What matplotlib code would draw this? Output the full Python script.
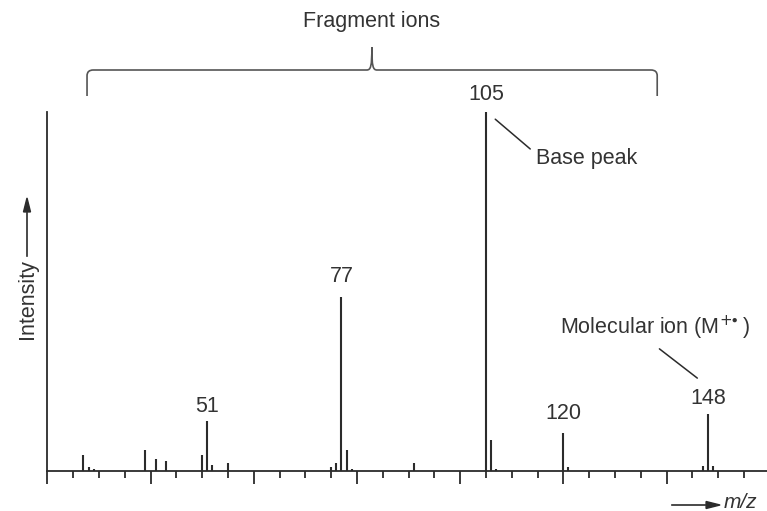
'''
Schematic EI mass spectrum with fragment ions, base peak and molecular ion.
'''
import numpy as np
import matplotlib
matplotlib.use("Agg")
import matplotlib.pyplot as plt
from matplotlib.path import Path
from matplotlib.patches import PathPatch, FancyArrow

plt.rcParams['font.family'] = ['Liberation Sans', 'DejaVu Sans']
plt.rcParams['mathtext.fontset'] = 'dejavusans'

INK = "#2b2b2b"
TXT = "#333333"
FS = 15.5

# Peaks (m/z, relative intensity in %)
mz = [27, 28, 29, 39, 41, 43, 50, 51, 52, 55,
      75, 76, 77, 78, 79, 91,
      105, 106, 107, 120, 121, 147, 148, 149]
intensity = [4.5, 1.2, 0.6, 5.8, 3.3, 2.7, 4.5, 14.0, 1.7, 2.3,
             1.0, 2.3, 48.5, 5.8, 0.5, 2.3,
             100.0, 8.6, 0.5, 10.6, 1.0, 1.3, 15.8, 1.3]

# Labelled peaks
label_mz = [51, 77, 105, 120, 148]
label_text = ["51", "77", "105", "120", "148"]
label_gap = [14, 20, 17, 19, 16]   # px between peak top and label centre

# Fragment-ion brace (m/z span and tip)
brace_left, brace_tip, brace_right = 27.7, 82.9, 138.2

fig = plt.figure(figsize=(7.67, 5.11), dpi=100)
W, H = 767, 511
x0_px, y0_px, ytop_px = 47.3, 471, 112
ax = fig.add_axes([x0_px / W, (H - y0_px) / H, (W - x0_px) / W, (y0_px - ytop_px) / H])
ax.set_xlim(20, 20 + (W - x0_px) / 5.16)
ax.set_ylim(0, 100)

ax.vlines(mz, 0, intensity, color=INK, lw=1.5)

for s in ("top", "right"):
    ax.spines[s].set_visible(False)
for s in ("left", "bottom"):
    ax.spines[s].set_color(INK)
    ax.spines[s].set_linewidth(1.3)

ax.set_xticks(np.arange(20, 160, 20))
ax.set_xticks(np.arange(20, 160, 5), minor=True)
ax.tick_params(axis="x", which="major", length=9, width=1.3, color=INK, labelbottom=False)
ax.tick_params(axis="x", which="minor", length=5, width=1.3, color=INK)
ax.set_yticks([])

# peak labels
peak_h = dict(zip(mz, intensity))
for m, t, g in zip(label_mz, label_text, label_gap):
    ax.annotate(t, (m, peak_h[m]), xytext=(0, g), textcoords="offset pixels",
                ha="center", va="center", fontsize=FS, color=TXT)

# Base peak callout
ax.annotate("", xy=(106.4, 98.5), xytext=(114.0, 89.2),
            arrowprops=dict(arrowstyle="-", color=INK, lw=1.1))
ax.text(114.8, 87.0, "Base peak", fontsize=FS, color=TXT, va="center", ha="left")

# Molecular ion callout
ax.annotate("", xy=(138.2, 34.5), xytext=(146.4, 25.4),
            arrowprops=dict(arrowstyle="-", color=INK, lw=1.1))
ax.text(137.8, 39.8, r"Molecular ion (M$^{+\!\!\bullet}$)", fontsize=FS, color=TXT,
        va="center", ha="center")

# brace over the fragment ions (drawn in data coords above the axes)
ypx = lambda p: (y0_px - p) / (y0_px - ytop_px) * 100
yb, yh, yt = ypx(96), ypx(70), ypx(47)
rx, ry = 1.2, 1.6
verts = [(brace_left, yb), (brace_left, yh - ry), (brace_left, yh), (brace_left + rx, yh),
         (brace_tip - 1.0, yh), (brace_tip - 0.2, yh), (brace_tip, yh + 1.0), (brace_tip, yt),
         (brace_tip, yh + 1.0), (brace_tip + 0.2, yh), (brace_tip + 1.0, yh),
         (brace_right - rx, yh), (brace_right, yh), (brace_right, yh - ry), (brace_right, yb)]
codes = [Path.MOVETO, Path.LINETO, Path.CURVE3, Path.CURVE3,
         Path.LINETO, Path.CURVE4, Path.CURVE4, Path.CURVE4,
         Path.CURVE4, Path.CURVE4, Path.CURVE4,
         Path.LINETO, Path.CURVE3, Path.CURVE3, Path.LINETO]
ax.add_patch(PathPatch(Path(verts, codes), fill=False, ec="#555555", lw=1.2, clip_on=False))
ax.text(brace_tip, ypx(22), "Fragment ions", fontsize=FS, color=TXT,
        ha="center", va="center", clip_on=False)

# axis captions with arrows (figure pixel coords)
fig.text(27 / W, 1 - 299 / H, "Intensity", rotation=90, fontsize=FS, color=TXT,
         ha="center", va="center")
fig.add_artist(plt.Line2D([27 / W, 27 / W], [1 - 256 / H, 1 - 207 / H], color=INK, lw=1.2))
fig.add_artist(FancyArrow(27 / W, 1 - 212 / H, 0, 0.0001, transform=fig.transFigure,
                          width=0, head_width=7 / W, head_length=14 / H,
                          length_includes_head=False, color=INK))
fig.add_artist(plt.Line2D([672 / W, 710 / W], [1 - 505 / H, 1 - 505 / H], color=INK, lw=1.2))
fig.add_artist(FancyArrow(706 / W, 1 - 505 / H, 0.0001, 0, transform=fig.transFigure,
                          width=0, head_width=7 / H, head_length=14 / W,
                          length_includes_head=False, color=INK))
fig.text(740 / W, 1 - 502 / H, "m/z", style="italic", fontsize=15, color=TXT,
         ha="center", va="center")

fig.savefig("out.png", dpi=100)
